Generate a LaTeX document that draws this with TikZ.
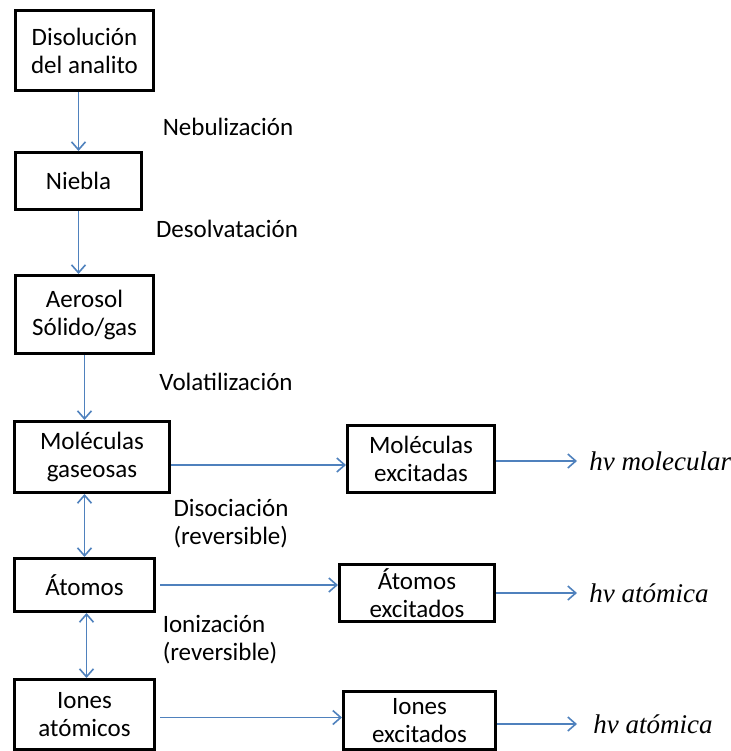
\documentclass[tikz,border=0pt]{standalone}
\usepackage{fontspec}
\setmainfont{Carlito}
\newfontfamily\hvfont{Liberation Serif}
\usepackage{tikz}
\usetikzlibrary{arrows.meta,positioning,calc}
\definecolor{flowblue}{RGB}{79,129,189}

\begin{document}
\begin{tikzpicture}[x=0.5pt, y=-0.5pt, font=\fontsize{12.5}{14}\selectfont,
    stagebox/.style={rectangle, draw=black, line width=1.5pt, inner sep=1pt, align=center},
    flow/.style={-{Straight Barb[length=4pt,width=7pt]}, line width=0.8pt, flowblue},
    twoway/.style={{Straight Barb[length=4pt,width=7pt]}-{Straight Barb[length=4pt,width=7pt]}, line width=0.8pt, flowblue},
    hvlabel/.style={anchor=west, inner xsep=6pt, font=\hvfont\itshape\fontsize{13.5}{15}\selectfont}]
        \useasboundingbox (0,0) rectangle (731,751);

        % main column
        \node[stagebox, minimum width=69pt, minimum height=40pt] (disol) at (84.5,50.5) {Disolución\\del analito};
        \node[stagebox, minimum width=63pt, minimum height=28.5pt] (niebla) at (78.5,181) {Niebla};
        \node[stagebox, minimum width=69pt, minimum height=39pt] (aerosol) at (84.5,314.5) {Aerosol\\Sólido/gas};
        \node[stagebox, minimum width=77.5pt, minimum height=35.5pt] (molgas) at (92,457) {Moléculas\\gaseosas};
        \node[stagebox, minimum width=70pt, minimum height=26.5pt] (atomos) at (84.5,585) {Átomos};
        \node[stagebox, minimum width=70pt, minimum height=35pt] (iones) at (84.5,714.5) {Iones\\atómicos};

        % excited states
        \node[stagebox, minimum width=73.5pt, minimum height=33.5pt] (molexc) at (421,459) {Moléculas\\excitadas};
        \node[stagebox, minimum width=77.5pt, minimum height=28.5pt] (atexc) at (417,593) {Átomos\\excitados};
        \node[stagebox, minimum width=76pt, minimum height=29pt] (ionexc) at (419.5,720.5) {Iones\\excitados};

        % emission labels
        \node[hvlabel] (hvmol) at (577,461) {hv molecular};
        \node[hvlabel] (hvat) at (577,593) {hv atómica};
        \node[hvlabel, inner xsep=8pt] (hvion) at (577,724) {hv atómica};

        % step labels
        \node (nebul) at (228,127) {Nebulización};
        \node (desolv) at (227,229) {Desolvatación};
        \node (volat) at (226,382) {Volatilización};
        \node[align=left] (disoc) at (231,524) {Disociación\\(reversible)};
        \node[align=left] (ioniz) at (220,640) {Ionización\\(reversible)};

        % vertical steps
        \draw[flow] (disol.south -| niebla) -- (niebla);
        \draw[flow] (niebla) -- (aerosol.north -| niebla);
        \draw[flow] (aerosol) -- (molgas.north -| aerosol);
        \draw[twoway] (molgas.south -| atomos) -- (atomos.north);
        \draw[twoway] ([xshift=1pt]atomos.south) -- ([xshift=1pt]iones.north);

        % excitation
        \draw[flow] ([yshift=-4pt]molgas.east) -- ([yshift=-4pt]molgas.east -| molexc.west);
        \draw[flow] ([xshift=2pt]atomos.east) -- (atomos.east -| atexc.west);
        \draw[flow] ([xshift=2pt,yshift=-1.5pt]iones.east) -- ([yshift=-1.5pt]iones.east -| ionexc.west);

        % emission
        \draw[flow] (molexc.east |- hvmol) -- (hvmol);
        \draw[flow] (atexc.east) -- (hvat);
        \draw[flow] (ionexc.east |- hvion) -- (hvion);
\end{tikzpicture}
\end{document}
